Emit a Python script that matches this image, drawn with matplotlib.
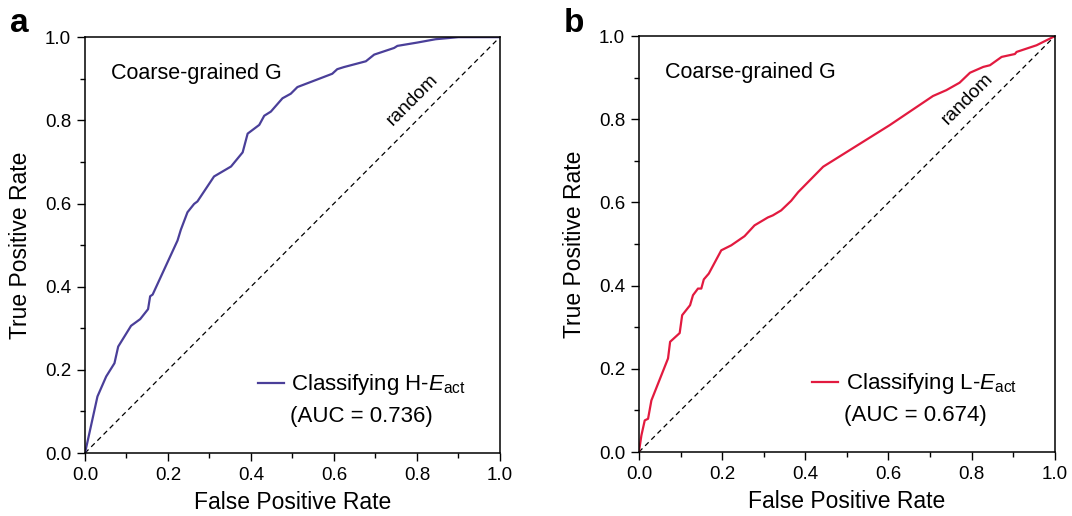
import matplotlib.pyplot as plt
import numpy as np

plt.rcParams['font.family'] = ['Liberation Sans', 'DejaVu Sans']
plt.rcParams['mathtext.fontset'] = 'custom'
plt.rcParams['mathtext.it'] = 'Liberation Sans:italic'
plt.rcParams['mathtext.rm'] = 'Liberation Sans'

# ROC curve, panel a (H-Eact)
fpr_h = [0.0, 0.030, 0.051, 0.071, 0.080, 0.111, 0.133, 0.152, 0.157, 0.163, 0.223, 0.231,
         0.247, 0.263, 0.271, 0.311, 0.352, 0.380, 0.392, 0.420, 0.432, 0.448, 0.476, 0.496,
         0.512, 0.596, 0.608, 0.624, 0.677, 0.697, 0.745, 0.753, 0.801, 0.845, 0.900, 1.0]
tpr_h = [0.0, 0.136, 0.184, 0.216, 0.256, 0.306, 0.322, 0.346, 0.377, 0.381, 0.511, 0.537,
         0.579, 0.599, 0.605, 0.665, 0.689, 0.723, 0.768, 0.789, 0.811, 0.821, 0.853, 0.864,
         0.880, 0.912, 0.923, 0.928, 0.942, 0.958, 0.974, 0.979, 0.987, 0.995, 1.0, 1.0]

# ROC curve, panel b (L-Eact)
fpr_l = [0.0, 0.006, 0.014, 0.022, 0.030, 0.070, 0.075, 0.098, 0.104, 0.123, 0.130, 0.142,
         0.150, 0.156, 0.168, 0.198, 0.222, 0.254, 0.278, 0.310, 0.322, 0.342, 0.366, 0.383,
         0.443, 0.603, 0.707, 0.739, 0.771, 0.796, 0.828, 0.844, 0.872, 0.904, 0.908, 0.956, 1.0]
tpr_l = [0.0, 0.040, 0.076, 0.080, 0.124, 0.225, 0.265, 0.286, 0.329, 0.353, 0.377, 0.393,
         0.393, 0.415, 0.429, 0.485, 0.497, 0.519, 0.545, 0.564, 0.569, 0.581, 0.604, 0.625,
         0.686, 0.786, 0.856, 0.870, 0.888, 0.912, 0.926, 0.930, 0.950, 0.957, 0.962, 0.978, 1.0]

panels = [
    ('a', fpr_h, tpr_h, '#4a3f99', 'Classifying H-$\\mathit{E}_{\\mathrm{act}}$', '(AUC = 0.736)',
     [0.0793, 0.122, 0.387, 0.806]),
    ('b', fpr_l, tpr_l, '#e21a3f', 'Classifying L-$\\mathit{E}_{\\mathrm{act}}$', '(AUC = 0.674)',
     [0.596, 0.124, 0.388, 0.806]),
]

fig = plt.figure(figsize=(10.72, 5.16), dpi=100)

for tag, x, y, color, label, auc, rect in panels:
    ax = fig.add_axes(rect)
    ax.plot([0, 1], [0, 1], ls=(0, (4, 3)), color='black', lw=0.9)
    ax.plot(x, y, color=color, lw=1.6, label=label)
    ax.set_xlim(0, 1)
    ax.set_ylim(0, 1)
    ax.set_xticks(np.arange(0, 1.01, 0.2))
    ax.set_yticks(np.arange(0, 1.01, 0.2))
    ax.set_xticks(np.arange(0.1, 1.0, 0.2), minor=True)
    ax.set_yticks(np.arange(0.1, 1.0, 0.2), minor=True)
    ax.tick_params(which='major', direction='out', length=6, width=1, labelsize=13.5, pad=4)
    ax.tick_params(which='minor', direction='out', length=3.5, width=1)
    for s in ax.spines.values():
        s.set_linewidth(1.1)
    ax.set_xlabel('False Positive Rate', fontsize=16.5, labelpad=5)
    ax.set_ylabel('True Positive Rate', fontsize=16.5, labelpad=9)
    ax.text(0.063, 0.913, 'Coarse-grained G', fontsize=15.5, va='center', ha='left')
    ax.text(0.79, 0.85, 'random', fontsize=13.8, rotation=45, ha='center', va='center')
    ax.legend(loc='center left', bbox_to_anchor=(0.417, 0.164), frameon=False,
              fontsize=16, handlelength=1.15, handletextpad=0.35, borderpad=0, borderaxespad=0)
    ax.text(0.494, 0.087, auc, fontsize=16, va='center', ha='left')
    fig.text(rect[0] - 0.07, 0.955, tag, fontsize=24, fontweight='bold', va='center')

fig.savefig('out.png', dpi=100)
